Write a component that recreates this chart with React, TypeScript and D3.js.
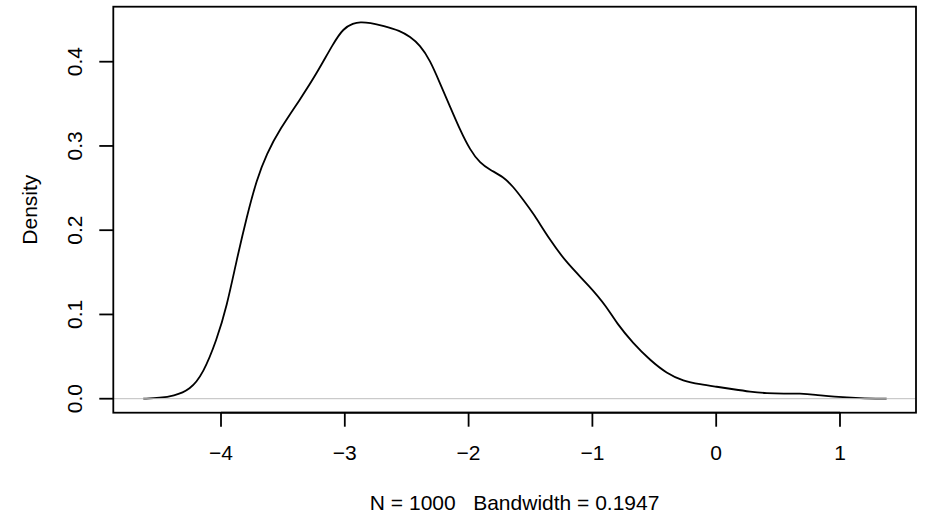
import React from "react";
import * as d3 from "d3";

const densX = [
  -4.628, -4.49, -4.385, -4.25, -4.143, -4.035, -3.954, -3.873, -3.792, -3.712,
  -3.631, -3.523, -3.362, -3.227, -3.093, -3.012, -2.931, -2.877, -2.796, -2.689,
  -2.554, -2.473, -2.393, -2.312, -2.231, -2.15, -2.069, -1.988, -1.907, -1.826,
  -1.72, -1.639, -1.558, -1.477, -1.342, -1.207, -1.019, -0.884, -0.804, -0.67,
  -0.535, -0.4, -0.266, -0.129, 0.004, 0.138, 0.273, 0.408, 0.55, 0.677,
  0.8, 0.944, 1.162, 1.377,
];
const densY = [
  0.0, 0.001, 0.0032, 0.0103, 0.0301, 0.0697, 0.109, 0.165, 0.216, 0.26,
  0.291, 0.3203, 0.355, 0.386, 0.4218, 0.4396, 0.4456, 0.4471, 0.4463, 0.4427,
  0.4368, 0.4297, 0.4198, 0.402, 0.3744, 0.3467, 0.319, 0.2952, 0.2794, 0.2715,
  0.2635, 0.2516, 0.2359, 0.22, 0.188, 0.161, 0.133, 0.109, 0.0895, 0.0657,
  0.0459, 0.0301, 0.021, 0.0171, 0.0142, 0.0112, 0.0083, 0.0064, 0.006, 0.0062,
  0.0048, 0.0024, 0.0005, 0.0,
];
const xTicks = [-4, -3, -2, -1, 0, 1];
const yTicks = [0.0, 0.1, 0.2, 0.3, 0.4];
const xLabel = "N = 1000   Bandwidth = 0.1947";
const yLabel = "Density";

const W = 926;
const H = 520;
const L = 113.3, R = 916, T = 6.7, B = 412.7;
const FONT = "'Liberation Sans', Arial, Helvetica, sans-serif";
const FS = 21;

export default function App() {
  const x = d3.scaleLinear().domain([-4.87, 1.614]).range([L, R]);
  const y = d3.scaleLinear().domain([0, 0.4]).range([398.7, 61.7]);
  const pts: [number, number][] = densX.map((d, i) => [d, densY[i]]);
  const line = d3
    .line<[number, number]>()
    .x((d) => x(d[0]))
    .y((d) => y(d[1]))
    .curve(d3.curveBasis);
  const fmt = (v: number) => (v < 0 ? "\u2212" + Math.abs(v) : String(v));
  return (
    <svg
      width={W}
      height={H}
      style={{ position: "absolute", left: 0, top: 0, background: "#fff" }}
      fontFamily={FONT}
    >
      <rect x={0} y={0} width={W} height={H} fill="#fff" />
      <defs>
        <clipPath id="plotclip">
          <rect x={L} y={T} width={R - L} height={B - T} />
        </clipPath>
      </defs>
      <path d={line(pts) || ""} fill="none" stroke="#000" strokeWidth={1.8} strokeLinejoin="round" />
      <line
        x1={L}
        x2={R}
        y1={y(0)}
        y2={y(0)}
        stroke="#bebebe"
        strokeWidth={1}
        clipPath="url(#plotclip)"
      />
      <rect x={L} y={T} width={R - L} height={B - T} fill="none" stroke="#000" strokeWidth={1.8} />
      {/* x axis */}
      <line x1={x(xTicks[0])} x2={x(xTicks[xTicks.length - 1])} y1={B} y2={B} stroke="#000" strokeWidth={1.8} />
      {xTicks.map((t) => (
        <g key={"xt" + t}>
          <line x1={x(t)} x2={x(t)} y1={B} y2={B + 14} stroke="#000" strokeWidth={1.8} />
          <text x={x(t)} y={459.5} textAnchor="middle" fontSize={FS} fill="#000">
            {fmt(t)}
          </text>
        </g>
      ))}
      {/* y axis */}
      {yTicks.map((t) => (
        <g key={"yt" + t}>
          <line x1={L - 14} x2={L} y1={y(t)} y2={y(t)} stroke="#000" strokeWidth={1.8} />
          <text
            transform={`translate(82,${y(t)}) rotate(-90)`}
            textAnchor="middle"
            fontSize={FS}
            fill="#000"
          >
            {t.toFixed(1)}
          </text>
        </g>
      ))}
      <text
        x={(L + R) / 2}
        y={510}
        textAnchor="middle"
        fontSize={FS}
        fill="#000"
        style={{ whiteSpace: "pre" }}
      >
        {xLabel}
      </text>
      <text
        transform={`translate(37,${(T + B) / 2}) rotate(-90)`}
        textAnchor="middle"
        fontSize={FS}
        fill="#000"
      >
        {yLabel}
      </text>
    </svg>
  );
}
